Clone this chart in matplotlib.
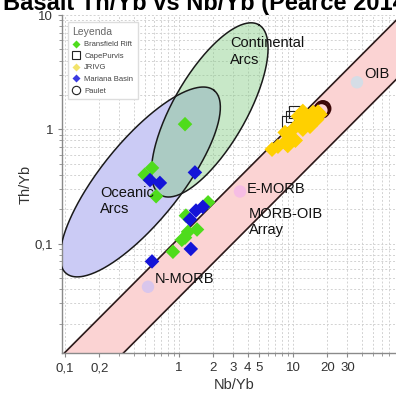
import numpy as np
import matplotlib
matplotlib.use("Agg")
import matplotlib.pyplot as plt
from matplotlib.ticker import FixedLocator, FixedFormatter, NullFormatter

plt.rcParams['font.family'] = ['Liberation Sans', 'DejaVu Sans']

# ---- sample data (Nb/Yb, Th/Yb) ----
bransfield_nb = [1.13, 0.50, 0.58, 0.63, 1.80, 1.15, 1.44, 1.20, 1.06, 0.885, 1.13]
bransfield_th = [1.11, 0.40, 0.46, 0.26, 0.23, 0.176, 0.133, 0.127, 0.108, 0.085, 0.113]

mariana_nb = [0.557, 0.68, 1.38, 1.62, 1.41, 1.25, 1.27, 0.58]
mariana_th = [0.36, 0.34, 0.42, 0.21, 0.195, 0.163, 0.090, 0.070]

jrivg_nb = [6.55, 7.38, 8.51, 9.42, 8.51, 10.0, 11.5, 13.3, 15.0, 14.1, 12.2, 16.2, 17.3, 11.1, 12.2, 10.5, 9.0, 16.6]
jrivg_th = [0.668, 0.71, 0.77, 0.85, 0.94, 1.0, 1.15, 1.30, 1.41, 1.06, 1.0, 1.22, 1.35, 1.30, 1.44, 0.80, 0.72, 1.42]

capepurvis_nb = [9.04, 10.4, 9.8]
capepurvis_th = [1.17, 1.41, 1.30]

paulet_nb = [18.3, 17.8]
paulet_th = [1.52, 1.47]

# reference compositions
ref_names = ["N-MORB", "E-MORB", "OIB"]
ref_nb = [0.535, 3.43, 36.4]
ref_th = [0.042, 0.286, 2.58]
ref_colors = ["#d9c6ec", "#f6bde4", "#d5dde6"]

# MORB-OIB array bounds, Th/Nb ratios
array_upper = 0.112
array_lower = 0.034

# arc fields as ellipses in log10 space: centre x, centre y, semi-major, semi-minor, angle
oceanic_field = (-0.34, -0.46, 1.03, 0.35, 51)
continental_field = (0.27, 0.17, 0.86, 0.32, 60)

x_major = [0.1, 0.2, 1, 2, 3, 4, 5, 10, 20, 30]
x_major_labels = ["0,1", "0,2", "1", "2", "3", "4", "5", "10", "20", "30"]
y_major = [0.1, 1, 10]
y_major_labels = ["0,1", "1", "10"]


def ellipse(cx, cy, a, b, ang, n=300):
    t = np.linspace(0, 2 * np.pi, n)
    th = np.radians(ang)
    lx = cx + a * np.cos(t) * np.cos(th) - b * np.sin(t) * np.sin(th)
    ly = cy + a * np.cos(t) * np.sin(th) + b * np.sin(t) * np.cos(th)
    return 10 ** lx, 10 ** ly


fig = plt.figure(figsize=(3.96, 3.94), dpi=100)
ax = fig.add_axes([62 / 396, 41 / 394, 345 / 396, 338 / 394])
ax.set_xscale("log")
ax.set_yscale("log")
ax.set_xlim(0.0942, 100)
ax.set_ylim(0.01107, 10)

# grid on every decade subdivision
minor_vals = [m * 10.0 ** e for e in range(-3, 3) for m in range(1, 10)]
x_minor = [v for v in minor_vals if v not in x_major]
y_minor = [v for v in minor_vals if v not in y_major]
ax.xaxis.set_major_locator(FixedLocator(x_major))
ax.xaxis.set_major_formatter(FixedFormatter(x_major_labels))
ax.xaxis.set_minor_locator(FixedLocator(x_minor))
ax.xaxis.set_minor_formatter(NullFormatter())
ax.yaxis.set_major_locator(FixedLocator(y_major))
ax.yaxis.set_major_formatter(FixedFormatter(y_major_labels))
ax.yaxis.set_minor_locator(FixedLocator(y_minor))
ax.yaxis.set_minor_formatter(NullFormatter())
ax.grid(True, which="both", color="#d2d2d2", linestyle=(0, (2, 2)), linewidth=0.7, zorder=0)
ax.set_axisbelow(True)

for s in ["top", "right"]:
    ax.spines[s].set_visible(False)
for s in ["left", "bottom"]:
    ax.spines[s].set_color("#8a8a8a")
    ax.spines[s].set_linewidth(1.0)
ax.tick_params(which="both", direction="out", color="#8a8a8a", labelsize=9.5, labelcolor="#333333")
ax.tick_params(which="major", length=3)
ax.tick_params(which="minor", length=2)

# MORB-OIB array band
xs = np.logspace(-1.2, 2.2, 100)
ax.fill_between(xs, array_lower * xs, array_upper * xs, color="#fbd3d3", zorder=1)
ax.plot(xs, array_upper * xs, color="#2a1a1a", lw=1.2, zorder=2)
ax.plot(xs, array_lower * xs, color="#2a1a1a", lw=1.2, zorder=2)

# arc fields
ox, oy = ellipse(*oceanic_field)
ax.fill(ox, oy, facecolor="#cbcbf5", edgecolor="none", zorder=2)
cx, cy = ellipse(*continental_field)
ax.fill(cx, cy, facecolor="#86cc86", alpha=0.45, edgecolor="none", zorder=3)
ax.plot(cx, cy, color="#1a1a1a", lw=1.1, zorder=4)
ax.plot(ox, oy, color="#1a1a1a", lw=1.1, zorder=4)

# reference compositions
ax.scatter(ref_nb, ref_th, s=80, c=ref_colors, edgecolors="none", zorder=5)

# samples
ax.scatter(paulet_nb, paulet_th, s=110, marker="o", facecolors="none", edgecolors="#3a0606",
           linewidths=1.8, zorder=6, label="Paulet")
ax.scatter(bransfield_nb, bransfield_th, s=55, marker="D", c="#4fdc1c", edgecolors="none",
           zorder=7, label="Bransfield Rift")
ax.scatter(capepurvis_nb, capepurvis_th, s=70, marker="s", facecolors="none", edgecolors="#222222",
           linewidths=0.8, zorder=7, label="CapePurvis")
ax.scatter(jrivg_nb, jrivg_th, s=60, marker="D", c="#ffd000", edgecolors="none", zorder=8, label="JRIVG")
ax.scatter(mariana_nb, mariana_th, s=55, marker="D", c="#1414d8", edgecolors="none", zorder=8,
           label="Mariana Basin")

# field labels
lab = dict(fontsize=10.5, color="#111111", zorder=9, ha="left", va="center",
           multialignment="left", linespacing=1.2)
ax.text(2.8, 4.8, "Continental\nArcs", **lab)
ax.text(0.203, 0.235, "Oceanic\nArcs", **lab)
ax.text(42, 3.05, "OIB", **lab)
ax.text(3.9, 0.30, "E-MORB", **lab)
ax.text(4.1, 0.155, "MORB-OIB\nArray", **lab)
ax.text(0.61, 0.049, "N-MORB", **lab)

# legend
h = [
    plt.Line2D([], [], ls="none", marker="D", ms=4.5, mfc="#4fdc1c", mec="none"),
    plt.Line2D([], [], ls="none", marker="s", ms=6, mfc="white", mec="#222222", mew=0.8),
    plt.Line2D([], [], ls="none", marker="D", ms=4.5, mfc="#f2e36a", mec="none"),
    plt.Line2D([], [], ls="none", marker="D", ms=4.5, mfc="#3a3ae0", mec="none"),
    plt.Line2D([], [], ls="none", marker="o", ms=6, mfc="white", mec="#222222", mew=0.8),
]
leg = ax.legend(h, ["Bransfield Rift", "CapePurvis", "JRIVG", "Mariana Basin", "Paulet"],
                title="Leyenda", loc="upper left", bbox_to_anchor=(0.005, 0.99),
                fontsize=5.5, title_fontsize=7.5, frameon=True, fancybox=False,
                edgecolor="#dddddd", framealpha=1, borderpad=0.6, labelspacing=0.55,
                handletextpad=0.6, handlelength=1.0)
leg.get_title().set_color("#666666")
leg._legend_box.align = "left"
for t in leg.get_texts():
    t.set_color("#444444")
leg.set_zorder(10)

ax.set_xlabel("Nb/Yb", fontsize=10.5, color="#333333", labelpad=3)
ax.set_ylabel("Th/Yb", fontsize=10.5, color="#333333", labelpad=1)

fig.text(3 / 396, 1 - 10 / 394, "Basalt Th/Yb vs Nb/Yb (Pearce 2014)", fontsize=17, fontweight="bold",
         ha="left", va="baseline", color="black")

fig.savefig("out.png", dpi=100)
